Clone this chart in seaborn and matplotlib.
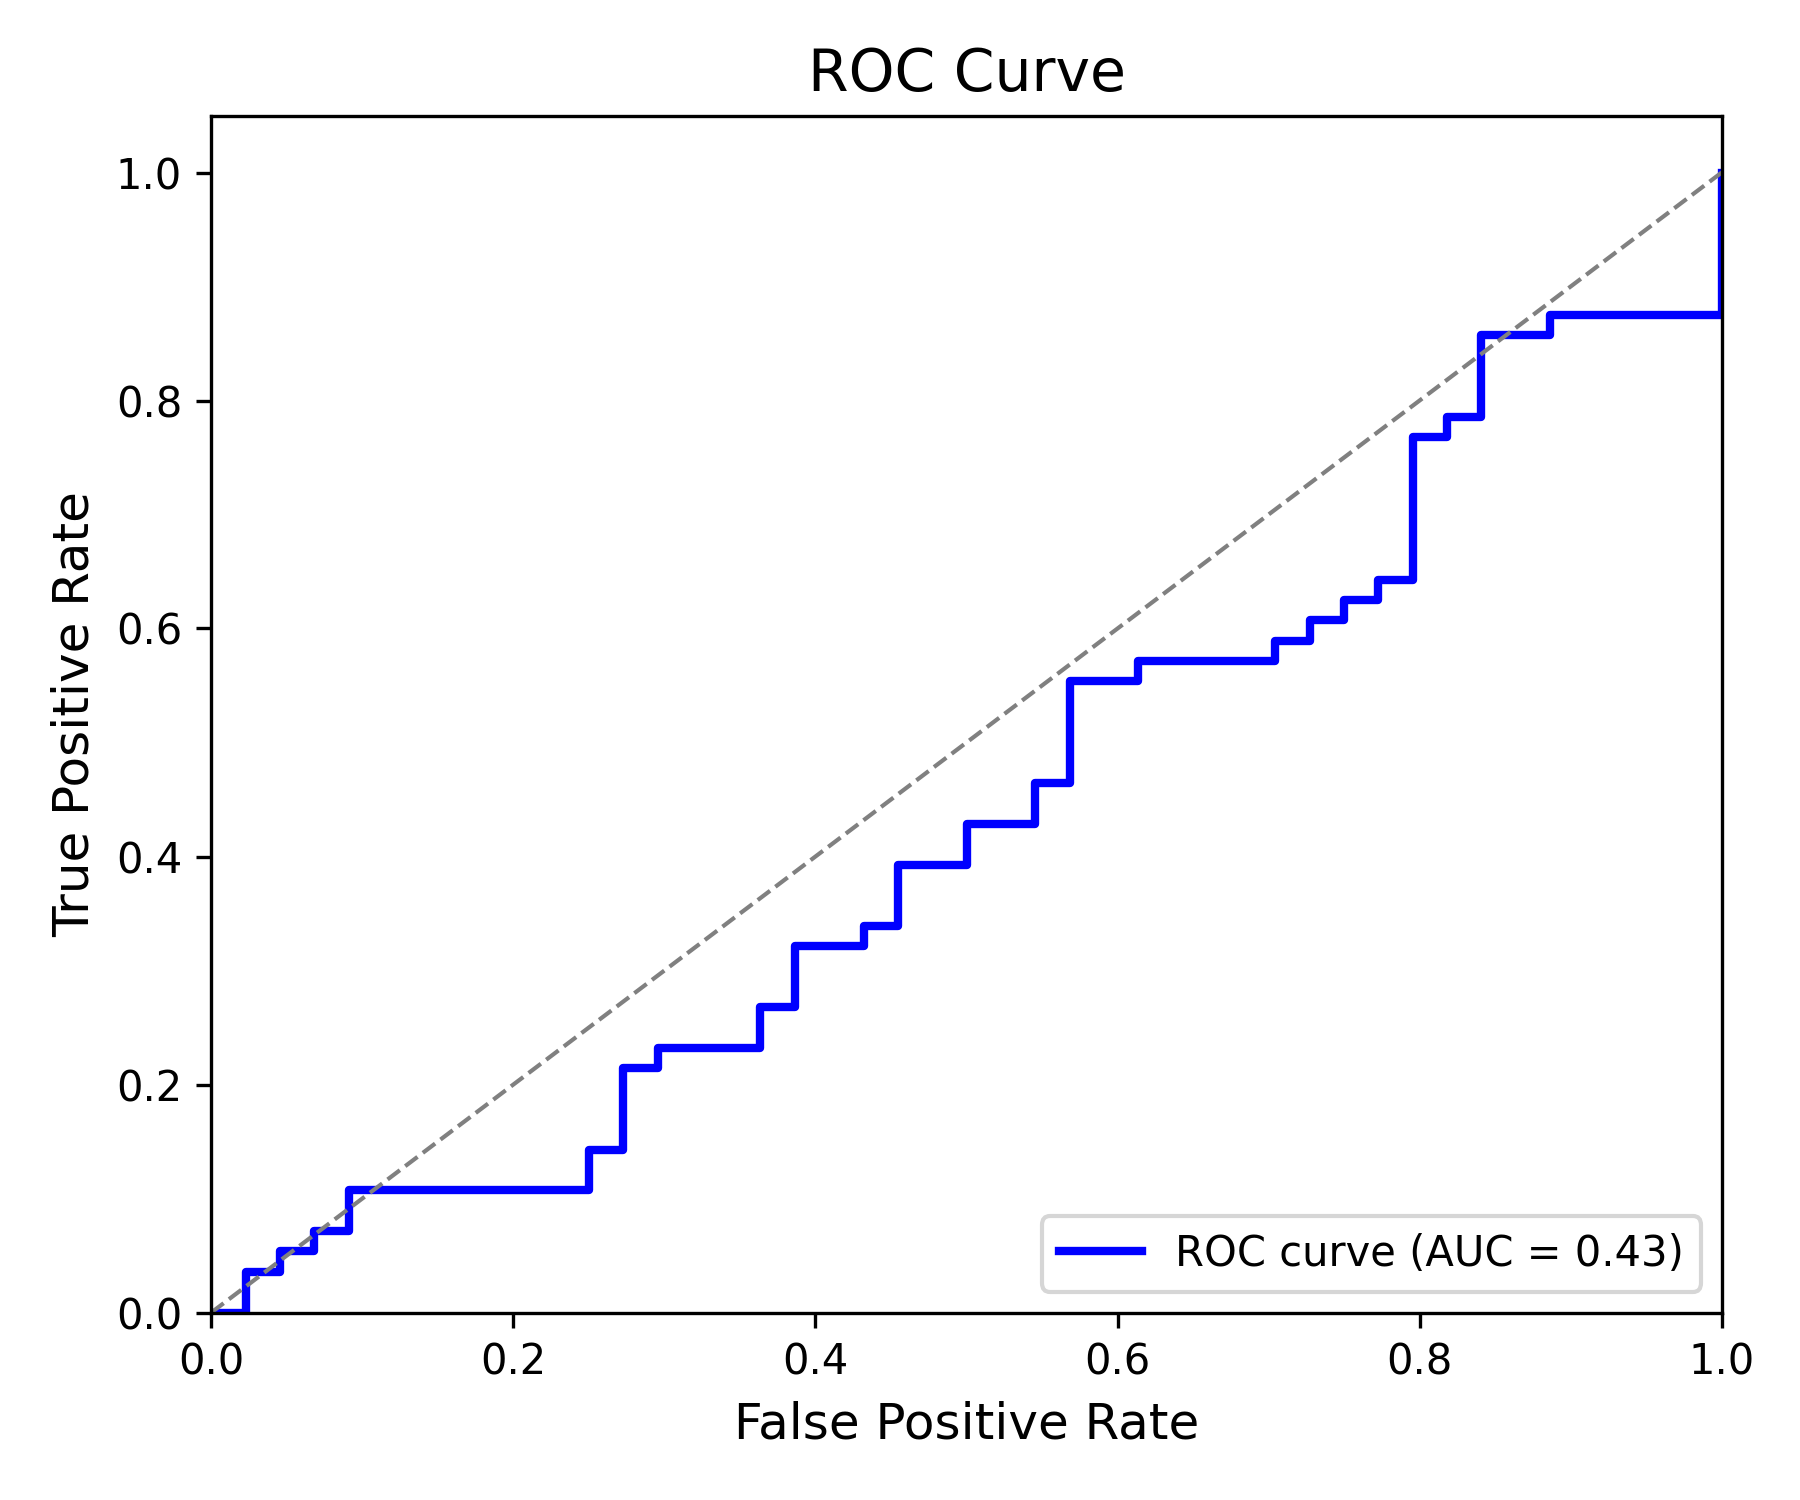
import matplotlib
matplotlib.use("Agg")
import matplotlib.pyplot as plt
import seaborn as sns
import pandas as pd

# ROC step points (x = where each step starts, y = level after jump)
fpr = [0.0, 0.0227, 0.0455, 0.0682, 0.0909, 0.25, 0.2727, 0.2955, 0.3636, 0.3864,
       0.4318, 0.4545, 0.5, 0.5455, 0.5682, 0.6136, 0.7045, 0.7273, 0.75, 0.7727,
       0.7955, 0.8182, 0.8409, 0.8864, 1.0]
tpr = [0.0, 0.0357, 0.0536, 0.0714, 0.1071, 0.1429, 0.2143, 0.2321, 0.2679, 0.3214,
       0.3393, 0.3929, 0.4286, 0.4643, 0.5536, 0.5714, 0.5893, 0.6071, 0.625, 0.6429,
       0.7679, 0.7857, 0.8571, 0.875, 1.0]
auc_value = 0.43

df = pd.DataFrame({"fpr": fpr, "tpr": tpr})

fig, ax = plt.subplots(figsize=(6, 5), dpi=300)

sns.lineplot(data=df, x="fpr", y="tpr", ax=ax, color="blue", linewidth=2,
             drawstyle="steps-post", sort=False, estimator=None,
             label=f"ROC curve (AUC = {auc_value:.2f})")
ax.plot([0, 1], [0, 1], color="gray", linestyle="--", linewidth=1)

ax.set_xlim(0.0, 1.0)
ax.set_ylim(0.0, 1.05)
ax.set_xlabel("False Positive Rate", fontsize=12)
ax.set_ylabel("True Positive Rate", fontsize=12)
ax.set_title("ROC Curve", fontsize=14)
ax.legend(loc="lower right")

fig.subplots_adjust(left=0.1174, right=0.9565, top=0.923, bottom=0.125)
plt.savefig("out.png", dpi=300)
